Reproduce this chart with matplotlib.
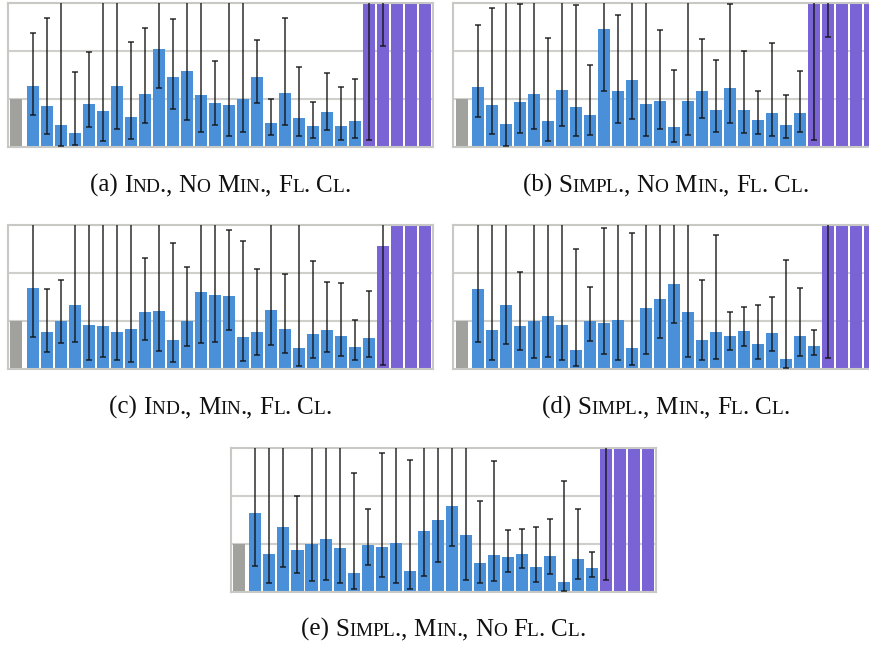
""" Five bar panels with error bars and small-caps captions. """

import numpy as np
import matplotlib
matplotlib.use("Agg")
import matplotlib.pyplot as plt

nan = np.nan
T = 5.0  # error bar running off the top of the panel
FULL = 4.0  # bar running off the top of the panel

# Heights after the grey reference bar (blue bars, then purple ones).
a_vals = [1.26, 0.85, 0.45, 0.28, 0.89, 0.74, 1.26, 0.62, 1.10, 2.03, 1.45, 1.58, 1.08, 0.91, 0.87,
          0.99, 1.45, 0.49, 1.12, 0.60, 0.43, 0.72, 0.43, 0.53, FULL, FULL, FULL, FULL, FULL]
a_lo = [0.67, 0.26, 0.02, 0.04, 0.41, 0.12, 0.37, 0.17, 0.49, 1.22, 0.78, 0.55, 0.30, 0.45, 0.22,
        0.31, 0.92, 0.24, 0.46, 0.22, 0.19, 0.34, 0.14, 0.19, 0.13, 2.10, nan, nan, nan]
a_hi = [2.36, 2.69, T, 1.56, 1.97, T, T, 2.19, 2.47, T, 2.67, T, T, 1.78, T,
        T, 2.23, 1.00, 2.69, 1.66, 0.93, 1.53, 1.25, 1.41, T, T, nan, nan, nan]
a_purple = 5

b_vals = [1.24, 0.87, 0.47, 0.93, 1.10, 0.53, 1.18, 0.83, 0.66, 2.45, 1.16, 1.39, 0.89, 0.95, 0.41,
          0.95, 1.16, 0.76, 1.22, 0.76, 0.56, 0.70, 0.45, 0.70, FULL, FULL, FULL, FULL, FULL]
b_lo = [0.61, 0.26, 0.02, 0.28, 0.37, 0.12, 0.43, 0.23, 0.24, 1.16, 0.49, 0.58, 0.22, 0.37, 0.10,
        0.24, 0.59, 0.31, 0.50, 0.29, 0.26, 0.22, 0.18, 0.30, 0.15, 2.29, nan, nan, nan]
b_hi = [2.53, 2.90, T, 2.97, T, 2.27, T, 2.95, 1.71, T, 2.74, T, T, 2.43, 1.60,
        T, 2.24, 1.81, 2.97, 1.99, 1.17, 2.17, 1.08, 1.58, T, T, nan, nan, nan]
b_purple = 5

c_vals = [1.69, 0.78, 1.01, 1.34, 0.92, 0.90, 0.78, 0.84, 1.19, 1.22, 0.61, 1.01, 1.61, 1.55, 1.53,
          0.67, 0.78, 1.24, 0.84, 0.44, 0.74, 0.82, 0.69, 0.47, 0.65, 2.57, FULL, FULL, FULL]
c_lo = [0.67, 0.37, 0.54, 0.56, 0.20, 0.26, 0.19, 0.16, 0.62, 0.39, 0.15, 0.48, 0.54, 0.57, 0.81,
        0.17, 0.29, 0.51, 0.35, 0.06, 0.24, 0.37, 0.27, 0.20, 0.26, 0.08, nan, nan, nan]
c_hi = [T, 1.68, 1.87, T, T, T, T, T, 2.32, T, 2.64, 2.14, T, T, 2.90,
        2.67, 2.09, T, 1.99, T, 2.26, 1.82, 1.79, 1.03, 1.63, T, nan, nan, nan]
c_purple = 4

d_vals = [1.67, 0.82, 1.34, 0.90, 1.01, 1.11, 0.92, 0.40, 1.01, 0.97, 1.03, 0.44, 1.28, 1.47, 1.78,
          1.19, 0.61, 0.78, 0.69, 0.80, 0.53, 0.76, 0.22, 0.69, 0.49, FULL, FULL, FULL, FULL]
d_lo = [0.56, 0.19, 0.52, 0.40, 0.23, 0.25, 0.19, 0.06, 0.58, 0.31, 0.19, 0.08, 0.32, 0.65, 0.96,
        0.26, 0.19, 0.22, 0.41, 0.49, 0.21, 0.38, 0.02, 0.28, 0.29, 0.24, nan, nan, nan]
d_hi = [T, T, T, 2.02, T, T, T, 2.51, 1.71, 2.94, T, 2.85, T, T, T,
        T, 1.86, 2.79, 1.19, 1.30, 1.35, 1.51, 2.28, 1.70, 0.81, T, nan, nan, nan]
d_purple = 4

e_vals = [1.65, 0.79, 1.35, 0.88, 1.00, 1.10, 0.92, 0.40, 0.98, 0.94, 1.02, 0.44, 1.27, 1.50, 1.79,
          1.19, 0.60, 0.77, 0.73, 0.79, 0.52, 0.75, 0.21, 0.69, 0.50, FULL, FULL, FULL, FULL]
e_lo = [0.55, 0.18, 0.52, 0.39, 0.23, 0.25, 0.18, 0.06, 0.57, 0.31, 0.19, 0.07, 0.33, 0.63, 0.96,
        0.26, 0.19, 0.22, 0.41, 0.49, 0.21, 0.37, 0.02, 0.28, 0.31, 0.24, nan, nan, nan]
e_hi = [T, T, T, 1.99, T, T, T, 2.47, 1.72, 2.90, T, 2.76, T, T, T,
        T, 1.90, 2.72, 1.30, 1.31, 1.36, 1.53, 2.31, 1.72, 0.84, T, nan, nan, nan]
e_purple = 4

base_val = 1.0
captions = ["(a) |Ind., No Min., Fl. Cl.",
            "(b) |Simpl., No Min., Fl. Cl.",
            "(c) |Ind., Min., Fl. Cl.",
            "(d) |Simpl., Min., Fl. Cl.",
            "(e) |Simpl., Min., No Fl. Cl."]

GREY = '#a1a29e'
BLUE = '#4a90d9'
PURPLE = '#7a63d5'

fig = plt.figure(figsize=(8.7, 6.48), dpi=100)
W, H = 870.0, 648.0

# Axes boxes in pixels: left, top, right, bottom.
boxes = [(8, 2.7, 432.7, 146.7), (453.3, 2.7, 878, 146.7),
         (8, 225.3, 432.7, 369.3), (453.3, 225.3, 878, 369.3),
         (230.7, 448, 656, 592)]
cap_y = [192, 192, 414, 414, 636]  # baselines, pixels from top

panels = [(a_vals, a_lo, a_hi, a_purple), (b_vals, b_lo, b_hi, b_purple),
          (c_vals, c_lo, c_hi, c_purple), (d_vals, d_lo, d_hi, d_purple),
          (e_vals, e_lo, e_hi, e_purple)]

renderer = fig.canvas.get_renderer()


def text_width(s, fs):
    # width with trailing/leading spaces measured by bracketing with letters
    t1 = fig.text(0, 0, 'x' + s + 'x', fontsize=fs, family='Liberation Serif')
    t2 = fig.text(0, 0, 'xx', fontsize=fs, family='Liberation Serif')
    w = t1.get_window_extent(renderer).width - t2.get_window_extent(renderer).width
    t1.remove()
    t2.remove()
    return w


def small_caps(x_center, y_base, text, size=18, ratio=0.77):
    # Draw text in fake small caps: lower case letters become smaller capitals.
    prefix, rest = text.split('|')
    pieces = [(prefix, size)]
    for ch in rest:
        if ch.islower():
            pieces.append((ch.upper(), size * ratio))
        else:
            pieces.append((ch, size))
    widths = [text_width(s, fs) for s, fs in pieces]
    x = x_center - sum(widths) / 2.0
    for (s, fs), wd in zip(pieces, widths):
        fig.text(x / W, 1 - y_base / H, s, fontsize=fs, family='Liberation Serif',
                 ha='left', va='baseline', color='#111111')
        x += wd


for (vals, lo, hi, n_purple), (l, t, r, b), cy, cap in zip(panels, boxes, cap_y, captions):
    ax = fig.add_axes([l / W, 1 - b / H, (r - l) / W, (b - t) / H])
    heights = np.array([base_val] + vals)
    lows = np.array([nan] + lo)
    highs = np.array([nan] + hi)
    # grey reference bar sits a little apart from the rest
    x = np.concatenate([[-1.17], np.arange(len(vals))])
    n_blue = len(vals) - n_purple
    colors = [GREY] + [BLUE] * n_blue + [PURPLE] * n_purple
    ax.bar(x, heights, width=0.86, color=colors, zorder=2)
    yerr = np.vstack([heights - lows, highs - heights])
    ax.errorbar(x, heights, yerr=yerr, fmt='none', ecolor='#111111', alpha=0.88,
                elinewidth=1.1, capsize=2.5, capthick=1.1, zorder=3)
    ax.set_xlim(-1.76, len(vals) - 0.45)
    ax.set_ylim(0, 3)
    ax.set_yticks([1, 2])
    ax.set_xticks([])
    ax.tick_params(left=False, labelleft=False)
    ax.grid(axis='y', color='#cfcfcb', linewidth=1.5, zorder=0)
    ax.set_axisbelow(True)
    for sp in ax.spines.values():
        sp.set_color('#c8c8c4')
        sp.set_linewidth(1.5)
    small_caps((l + r) / 2.0, cy, cap)

fig.savefig('out.png', dpi=100)
